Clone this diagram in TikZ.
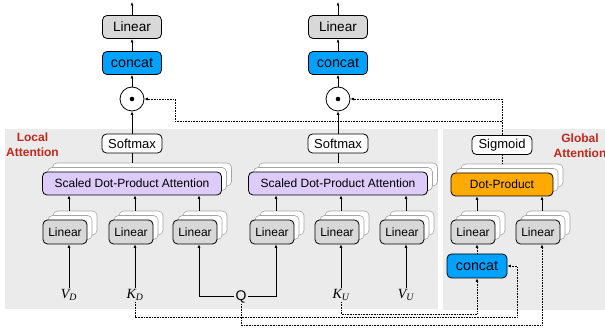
\documentclass[tikz,border=0pt]{standalone}
\usepackage{fontspec}
\setmainfont{Liberation Sans}
\newfontfamily\serifit{Liberation Serif}
\usetikzlibrary{calc,shadows,arrows.meta}

\definecolor{panelgray}{RGB}{235,235,235}
\definecolor{lingray}{RGB}{216,216,216}
\definecolor{catblue}{RGB}{0,162,255}
\definecolor{attlilac}{RGB}{221,203,250}
\definecolor{dporange}{RGB}{255,170,0}
\definecolor{attred}{RGB}{196,40,28}

\newcommand{\invar}[2]{{\serifit\itshape #1\textsubscript{#2}}}

\begin{document}
\begin{tikzpicture}
[x=1pt,y=-1pt,
 >={Latex[length=3.5pt,width=3pt]},
 line width=0.7pt,
 box/.style={draw,rounded corners=4.5pt,line width=0.8pt,inner sep=0pt,align=center},
 stack/.style={copy shadow={shadow xshift=10pt,shadow yshift=9pt,fill=white,draw=gray!70,line width=0.6pt},
               copy shadow={shadow xshift=5pt,shadow yshift=4.5pt,fill=white,draw=gray!70,line width=0.6pt}},
 lin/.style={box,fill=lingray,minimum width=44pt,minimum height=24pt,font=\fontsize{12}{14}\selectfont},
 toplin/.style={box,fill=lingray,minimum width=59pt,minimum height=23pt,font=\fontsize{13.6}{15}\selectfont},
 cat/.style={box,fill=catblue,minimum width=59pt,minimum height=23pt,font=\fontsize{14.3}{16}\selectfont},
 soft/.style={box,fill=white,minimum width=60pt,minimum height=19pt,font=\fontsize{13}{15}\selectfont},
 sdpa/.style={box,fill=attlilac,minimum width=179pt,minimum height=23pt,font=\fontsize{12}{14}\selectfont},
 odot/.style={circle,draw,line width=0.8pt,minimum size=24pt,inner sep=0pt},
 lab/.style={inner sep=1pt,font=\fontsize{14}{16}\selectfont},
 grp/.style={align=center,text=attred,font=\fontsize{12}{15}\selectfont\bfseries},
 dotline/.style={densely dotted,line width=0.6pt}]

% panels
\fill[panelgray] (5,129) rectangle (438,309);
\fill[panelgray] (443,129) rectangle (605,310);
\useasboundingbox (0,0) rectangle (605,328);

\node (loc) at (32.5,144.5) [grp] {Local\\Attention};
\node (glob) at (580,146) [grp] {Global\\Attention};

% local attention, left head
\coordinate (out1) at (132,2);
\node (top1) at (132,27) [toplin] {Linear};
\node (cat1) at (132,63) [cat] {concat};
\node (dot1) at (132,99) [odot] {};
\node (sm1) at (132,143.5) [soft] {Softmax};
\node (att1) at (132,183.5) [sdpa,stack] {Scaled Dot-Product Attention};

% local attention, right head
\coordinate (out2) at (338,2);
\node (top2) at (338,27) [toplin] {Linear};
\node (cat2) at (338,63) [cat] {concat};
\node (dot2) at (338,99) [odot] {};
\node (sm2) at (338,143.5) [soft] {Softmax};
\node (att2) at (338,183.5) [sdpa,stack] {Scaled Dot-Product Attention};

\fill (dot1.center) circle (2.3);
\fill (dot2.center) circle (2.3);

% global attention
\node (sig) at (502,145) [soft] {Sigmoid};
\node (dp) at (502,184.5) [sdpa,stack,fill=dporange,minimum width=102pt] {Dot-Product};
\node (cat3) at (477,266) [cat,minimum width=60pt,minimum height=24pt] {concat};

% linear projections
\node (lv) at (65,232) [lin,stack] {Linear};
\node (lk) at (131,232) [lin,stack] {Linear};
\node (lq1) at (195,232) [lin,stack] {Linear};
\node (lq2) at (272,232) [lin,stack] {Linear};
\node (lku) at (337,232) [lin,stack] {Linear};
\node (lvu) at (402,232) [lin,stack] {Linear};
\node (lg1) at (473,232) [lin,stack] {Linear};
\node (lg2) at (538,232) [lin,stack] {Linear};

% inputs
\node (vd) at (69,295) [lab] {\invar{V}{D}};
\node (kd) at (135,295) [lab] {\invar{K}{D}};
\node (q) at (241,296.5) [lab] {Q};
\node (ku) at (341,295) [lab] {\invar{K}{U}};
\node (vu) at (406,295) [lab] {\invar{V}{U}};

% solid connectors
\draw[->] (top1.north) -- (out1);
\draw[->] (cat1.north) -- (top1.south);
\draw[->] (dot1.north) -- (cat1.south);
\draw[->] (sm1.north) -- (dot1.south);
\draw ([yshift=9pt]att1.north) -- (sm1.south);

\draw[->] (top2.north) -- (out2);
\draw[->] (cat2.north) -- (top2.south);
\draw[->] (dot2.north) -- (cat2.south);
\draw[->] (sm2.north) -- (dot2.south);
\draw ([yshift=9pt]att2.north) -- (sm2.south);

\draw[->] ([xshift=4pt,yshift=9pt]lv.north) -- ([xshift=4pt]lv.north |- att1.south);
\draw[->] ([xshift=4pt,yshift=9pt]lk.north) -- ([xshift=4pt]lk.north |- att1.south);
\draw[->] ([xshift=4pt,yshift=9pt]lq1.north) -- ([xshift=4pt]lq1.north |- att1.south);
\draw[->] ([xshift=4pt,yshift=9pt]lq2.north) -- ([xshift=4pt]lq2.north |- att2.south);
\draw[->] ([xshift=4pt,yshift=9pt]lku.north) -- ([xshift=4pt]lku.north |- att2.south);
\draw[->] ([xshift=4pt,yshift=9pt]lvu.north) -- ([xshift=4pt]lvu.north |- att2.south);
\draw[->] ([xshift=4pt,yshift=9pt]lg1.north) -- ([xshift=4pt]lg1.north |- dp.south);
\draw[->] ([xshift=4pt,yshift=9pt]lg2.north) -- ([xshift=4pt]lg2.north |- dp.south);

\draw[->] (vd.north) -- (vd.north |- lv.south);
\draw[->] (kd.north) -- (kd.north |- lk.south);
\draw[->] (ku.north) -- (ku.north |- lku.south);
\draw[->] (vu.north) -- (vu.north |- lvu.south);
\draw[->] (q.west) -| ([xshift=4pt]lq1.south);
\draw[->] (q.east) -| ([xshift=4pt]lq2.south);

% dotted connectors
\coordinate (r1) at (0,314);
\coordinate (r2) at (0,317);
\coordinate (r3) at (0,325);
\coordinate (j1) at (175,121);
\coordinate (j3) at (517,266);

\draw[dotline] ([yshift=9pt]dp.north) -- (sig.south);
\draw[dotline,->] (sig.north) |- (dot2.east);
\draw[dotline,->] (sig.north |- j1) -- (j1) |- (dot1.east);
\draw[dotline,->] (cat3.north) -- (cat3.north |- lg1.south);
\draw[dotline,->] (ku.south) -- (ku.south |- r1) -| (cat3.south);
\draw[dotline,->] (kd.south) -- (kd.south |- r2) -| (j3) -- (cat3.east);
\draw[dotline,->] (q.south) -- (q.south |- r3) -| ([xshift=4pt]lg2.south);
\end{tikzpicture}
\end{document}
